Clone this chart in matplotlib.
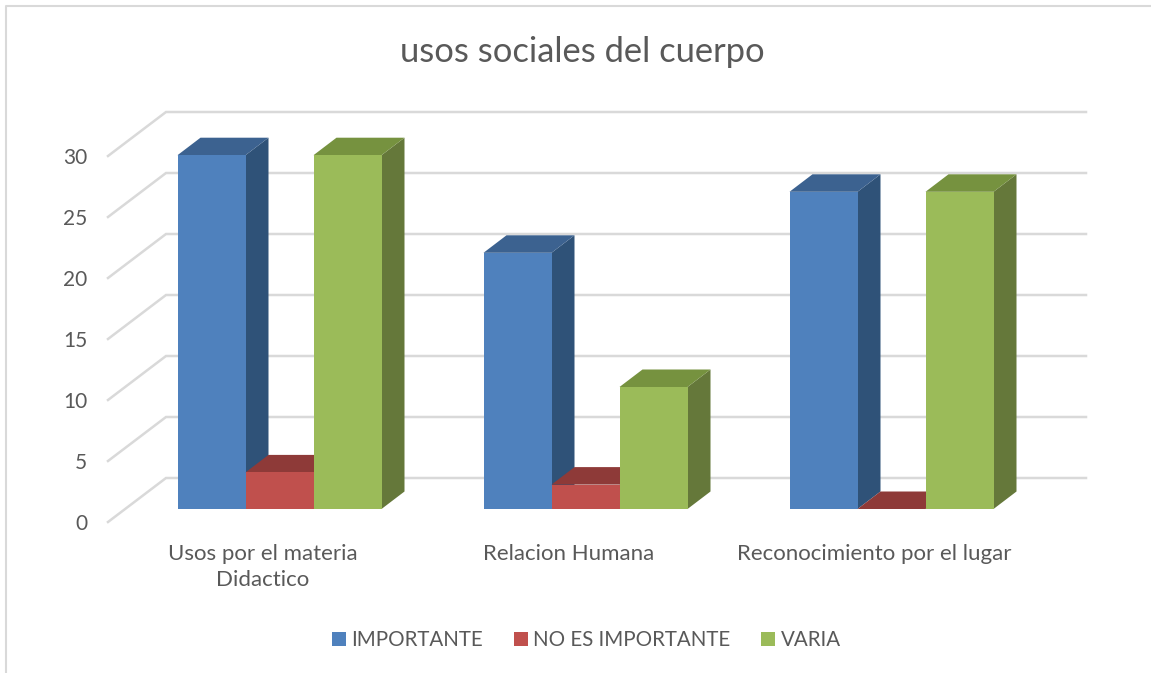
import matplotlib
matplotlib.use("Agg")
import matplotlib.pyplot as plt
from matplotlib.lines import Line2D
from matplotlib.patches import Patch, Polygon
from matplotlib.transforms import ScaledTranslation

# ---- data ----
title = "usos sociales del cuerpo"
categories = ["Usos por el materia\nDidactico", "Relacion Humana", "Reconocimiento por el lugar"]
series_names = ["IMPORTANTE", "NO ES IMPORTANTE", "VARIA"]
importante = [29, 21, 26]
no_es_importante = [3, 2, 0]
varia = [29, 10, 26]
y_ticks = [0, 5, 10, 15, 20, 25, 30]

# ---- style ----
W, H, DPI = 1151, 673, 100
FONT = "Lato"
TEXT = "#595959"
GRID = "#D9D9D9"
faces = ["#4F81BD", "#C0504D", "#9BBB59"]
tops = ["#3C6290", "#8E3A38", "#76923F"]
sides = ["#2F5278", "#8E3A38", "#65783A"]

plt.rcParams["font.family"] = [FONT, "DejaVu Sans"]
fig = plt.figure(figsize=(W / DPI, H / DPI), dpi=DPI, facecolor="white")

# Axes is the front plane of the 3-D box, in pixel placement
L, R, B, T = 108, 1028, 522, 156
ax = fig.add_axes([L / W, 1 - B / H, (R - L) / W, (B - T) / H])
PX_PER_CAT, PX_PER_UNIT = 306, (B - T) / 30
CENTER0 = 262.5
ax.set_xlim((L - CENTER0) / PX_PER_CAT, (R - CENTER0) / PX_PER_CAT)
ax.set_ylim(0, 30)
ax.set_frame_on(False)
ax.patch.set_alpha(0)

ax.set_xticks(range(len(categories)))
ax.set_xticklabels(categories, fontsize=16, color=TEXT, linespacing=1.36)
ax.set_yticks(y_ticks)
ax.set_yticklabels([str(v) for v in y_ticks], fontsize=15, color=TEXT)
ax.tick_params(axis="x", length=0, pad=16)
ax.tick_params(axis="y", length=0, pad=15)

# Walls: floor-to-back diagonal and back-wall gridline
wall_dx, wall_dy = 58 / PX_PER_CAT, 44 / PX_PER_UNIT
x0, x1 = ax.get_xlim()
for v in y_ticks:
    ax.plot([x0, x0 + wall_dx, x1 + wall_dx], [v, v + wall_dy, v + wall_dy],
            color=GRID, lw=1.8, clip_on=False, zorder=1, solid_joinstyle="miter")

# Bars stand part-way into the box
bar_shift = ax.transData + ScaledTranslation(17 / DPI, 13 / DPI, fig.dpi_scale_trans)
bar_w = 68 / PX_PER_CAT
dx, dy = 23 / PX_PER_CAT, 17.5 / PX_PER_UNIT

for s, values in enumerate([importante, no_es_importante, varia]):
    for c, v in enumerate(values):
        left = c + (s - 1.5) * bar_w
        right = left + bar_w
        z = 2 + s
        ax.add_patch(Polygon([(right, 0), (right + dx, dy), (right + dx, v + dy), (right, v)],
                             closed=True, fc=sides[s], ec="none", transform=bar_shift,
                             clip_on=False, zorder=z))
        ax.add_patch(Polygon([(left, v), (left + dx, v + dy), (right + dx, v + dy), (right, v)],
                             closed=True, fc=tops[s], ec="none", transform=bar_shift,
                             clip_on=False, zorder=z))
    ax.bar([c + (s - 1) * bar_w for c in range(len(values))], values, width=bar_w,
           color=faces[s], transform=bar_shift, clip_on=False, zorder=2 + s + 0.5)

ax.set_xlim(x0, x1)
ax.set_ylim(0, 30)

# Title
fig.text(582 / W, 1 - 52.5 / H, title, ha="center", va="center", fontsize=24.8, color=TEXT)

# Legend
handles = [Patch(facecolor=c, edgecolor="none") for c in faces]
fig.legend(handles, series_names, loc="center", bbox_to_anchor=(586.5 / W, 1 - 640.5 / H),
           ncol=3, frameon=False, fontsize=14.8, labelcolor=TEXT, handlelength=0.68,
           handleheight=0.68, handletextpad=0.25, columnspacing=1.5)

# Chart-area border (left and top edges)
fig.add_artist(Line2D([5.5 / W, 5.5 / W, 1], [0, 1 - 6 / H, 1 - 6 / H], color=GRID, lw=1.5))

fig.savefig("out.png", dpi=DPI)
